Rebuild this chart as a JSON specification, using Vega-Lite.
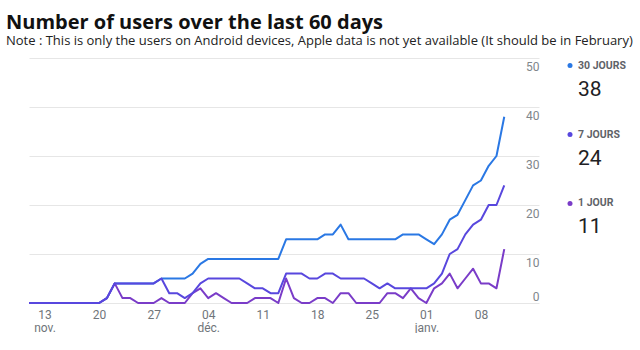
{
  "$schema": "https://vega.github.io/schema/vega-lite/v6.json",
  "padding": {"left": 6, "top": 13, "right": 0, "bottom": 0},
  "background": "white",
  "title": {
    "text": "Number of users over the last 60 days",
    "subtitle": "Note : This is only the users on Android devices, Apple data is not yet available (It should be in February)",
    "anchor": "start",
    "dx": -22,
    "font": "Open Sans",
    "fontSize": 20,
    "fontWeight": "bold",
    "color": "#111111",
    "subtitleFont": "Open Sans",
    "subtitleFontSize": 13,
    "subtitleColor": "#222222",
    "subtitlePadding": 2,
    "offset": 10
  },
  "config": {"view": {"stroke": null}, "concat": {"spacing": 28}},
  "datasets": {
    "users": [
      {"date": "2022-11-11", "30 JOURS": 0, "7 JOURS": 0, "1 JOUR": 0},
      {"date": "2022-11-12", "30 JOURS": 0, "7 JOURS": 0, "1 JOUR": 0},
      {"date": "2022-11-13", "30 JOURS": 0, "7 JOURS": 0, "1 JOUR": 0},
      {"date": "2022-11-14", "30 JOURS": 0, "7 JOURS": 0, "1 JOUR": 0},
      {"date": "2022-11-15", "30 JOURS": 0, "7 JOURS": 0, "1 JOUR": 0},
      {"date": "2022-11-16", "30 JOURS": 0, "7 JOURS": 0, "1 JOUR": 0},
      {"date": "2022-11-17", "30 JOURS": 0, "7 JOURS": 0, "1 JOUR": 0},
      {"date": "2022-11-18", "30 JOURS": 0, "7 JOURS": 0, "1 JOUR": 0},
      {"date": "2022-11-19", "30 JOURS": 0, "7 JOURS": 0, "1 JOUR": 0},
      {"date": "2022-11-20", "30 JOURS": 0, "7 JOURS": 0, "1 JOUR": 0},
      {"date": "2022-11-21", "30 JOURS": 1, "7 JOURS": 1, "1 JOUR": 1},
      {"date": "2022-11-22", "30 JOURS": 4, "7 JOURS": 4, "1 JOUR": 4},
      {"date": "2022-11-23", "30 JOURS": 4, "7 JOURS": 4, "1 JOUR": 1},
      {"date": "2022-11-24", "30 JOURS": 4, "7 JOURS": 4, "1 JOUR": 1},
      {"date": "2022-11-25", "30 JOURS": 4, "7 JOURS": 4, "1 JOUR": 0},
      {"date": "2022-11-26", "30 JOURS": 4, "7 JOURS": 4, "1 JOUR": 0},
      {"date": "2022-11-27", "30 JOURS": 4, "7 JOURS": 4, "1 JOUR": 0},
      {"date": "2022-11-28", "30 JOURS": 5, "7 JOURS": 5, "1 JOUR": 1},
      {"date": "2022-11-29", "30 JOURS": 5, "7 JOURS": 2, "1 JOUR": 0},
      {"date": "2022-11-30", "30 JOURS": 5, "7 JOURS": 2, "1 JOUR": 0},
      {"date": "2022-12-01", "30 JOURS": 5, "7 JOURS": 1, "1 JOUR": 0},
      {"date": "2022-12-02", "30 JOURS": 6, "7 JOURS": 2, "1 JOUR": 2},
      {"date": "2022-12-03", "30 JOURS": 8, "7 JOURS": 4, "1 JOUR": 3},
      {"date": "2022-12-04", "30 JOURS": 9, "7 JOURS": 5, "1 JOUR": 1},
      {"date": "2022-12-05", "30 JOURS": 9, "7 JOURS": 5, "1 JOUR": 2},
      {"date": "2022-12-06", "30 JOURS": 9, "7 JOURS": 5, "1 JOUR": 1},
      {"date": "2022-12-07", "30 JOURS": 9, "7 JOURS": 5, "1 JOUR": 0},
      {"date": "2022-12-08", "30 JOURS": 9, "7 JOURS": 5, "1 JOUR": 0},
      {"date": "2022-12-09", "30 JOURS": 9, "7 JOURS": 4, "1 JOUR": 0},
      {"date": "2022-12-10", "30 JOURS": 9, "7 JOURS": 3, "1 JOUR": 1},
      {"date": "2022-12-11", "30 JOURS": 9, "7 JOURS": 3, "1 JOUR": 1},
      {"date": "2022-12-12", "30 JOURS": 9, "7 JOURS": 2, "1 JOUR": 1},
      {"date": "2022-12-13", "30 JOURS": 9, "7 JOURS": 2, "1 JOUR": 0},
      {"date": "2022-12-14", "30 JOURS": 13, "7 JOURS": 6, "1 JOUR": 5},
      {"date": "2022-12-15", "30 JOURS": 13, "7 JOURS": 6, "1 JOUR": 1},
      {"date": "2022-12-16", "30 JOURS": 13, "7 JOURS": 6, "1 JOUR": 0},
      {"date": "2022-12-17", "30 JOURS": 13, "7 JOURS": 5, "1 JOUR": 0},
      {"date": "2022-12-18", "30 JOURS": 13, "7 JOURS": 5, "1 JOUR": 1},
      {"date": "2022-12-19", "30 JOURS": 14, "7 JOURS": 6, "1 JOUR": 1},
      {"date": "2022-12-20", "30 JOURS": 14, "7 JOURS": 6, "1 JOUR": 0},
      {"date": "2022-12-21", "30 JOURS": 16, "7 JOURS": 5, "1 JOUR": 2},
      {"date": "2022-12-22", "30 JOURS": 13, "7 JOURS": 5, "1 JOUR": 2},
      {"date": "2022-12-23", "30 JOURS": 13, "7 JOURS": 5, "1 JOUR": 0},
      {"date": "2022-12-24", "30 JOURS": 13, "7 JOURS": 5, "1 JOUR": 0},
      {"date": "2022-12-25", "30 JOURS": 13, "7 JOURS": 4, "1 JOUR": 0},
      {"date": "2022-12-26", "30 JOURS": 13, "7 JOURS": 3, "1 JOUR": 0},
      {"date": "2022-12-27", "30 JOURS": 13, "7 JOURS": 4, "1 JOUR": 2},
      {"date": "2022-12-28", "30 JOURS": 13, "7 JOURS": 3, "1 JOUR": 2},
      {"date": "2022-12-29", "30 JOURS": 14, "7 JOURS": 3, "1 JOUR": 1},
      {"date": "2022-12-30", "30 JOURS": 14, "7 JOURS": 3, "1 JOUR": 3},
      {"date": "2022-12-31", "30 JOURS": 14, "7 JOURS": 3, "1 JOUR": 1},
      {"date": "2023-01-01", "30 JOURS": 13, "7 JOURS": 3, "1 JOUR": 0},
      {"date": "2023-01-02", "30 JOURS": 12, "7 JOURS": 4, "1 JOUR": 3},
      {"date": "2023-01-03", "30 JOURS": 14, "7 JOURS": 6, "1 JOUR": 4},
      {"date": "2023-01-04", "30 JOURS": 17, "7 JOURS": 10, "1 JOUR": 6},
      {"date": "2023-01-05", "30 JOURS": 18, "7 JOURS": 11, "1 JOUR": 3},
      {"date": "2023-01-06", "30 JOURS": 21, "7 JOURS": 14, "1 JOUR": 5},
      {"date": "2023-01-07", "30 JOURS": 24, "7 JOURS": 16, "1 JOUR": 7},
      {"date": "2023-01-08", "30 JOURS": 25, "7 JOURS": 17, "1 JOUR": 4},
      {"date": "2023-01-09", "30 JOURS": 28, "7 JOURS": 20, "1 JOUR": 4},
      {"date": "2023-01-10", "30 JOURS": 30, "7 JOURS": 20, "1 JOUR": 3},
      {"date": "2023-01-11", "30 JOURS": 38, "7 JOURS": 24, "1 JOUR": 11}
    ]
  },
  "hconcat": [
    {
      "width": 510,
      "height": 245,
      "data": {"name": "users"},
      "transform": [{"fold": ["30 JOURS", "1 JOUR", "7 JOURS"], "as": ["series", "users"]}],
      "mark": {"type": "line", "strokeWidth": 2, "interpolate": "linear", "strokeJoin": "round"},
      "encoding": {
        "x": {
          "field": "date",
          "type": "temporal",
          "scale": {
            "type": "utc",
            "domain": [
              {"year": 2022, "month": 11, "date": 11, "utc": true},
              {"year": 2023, "month": 1, "date": 15, "hours": 11, "utc": true}
            ]
          },
          "axis": {
            "values": [
              {"year": 2022, "month": 11, "date": 13, "utc": true},
              {"year": 2022, "month": 11, "date": 20, "utc": true},
              {"year": 2022, "month": 11, "date": 27, "utc": true},
              {"year": 2022, "month": 12, "date": 4, "utc": true},
              {"year": 2022, "month": 12, "date": 11, "utc": true},
              {"year": 2022, "month": 12, "date": 18, "utc": true},
              {"year": 2022, "month": 12, "date": 25, "utc": true},
              {"year": 2023, "month": 1, "date": 1, "utc": true},
              {"year": 2023, "month": 1, "date": 8, "utc": true}
            ],
            "labelExpr": "[utcFormat(datum.value, '%d'), (datum.index == 0 || utcdate(datum.value) <= 7) ? ['janv.','févr.','mars','avr.','mai','juin','juil.','août','sept.','oct.','nov.','déc.'][utcmonth(datum.value)] : '']",
            "grid": false,
            "domain": false,
            "ticks": false,
            "title": null,
            "labelFont": "Roboto",
            "labelFontSize": 12,
            "labelColor": "#70757a",
            "labelPadding": 6,
            "labelLineHeight": 13,
            "labelFlush": false,
            "labelOverlap": false
          }
        },
        "y": {
          "field": "users",
          "type": "quantitative",
          "scale": {"domain": [0, 50], "nice": false},
          "axis": {
            "orient": "right",
            "values": [0, 10, 20, 30, 40, 50],
            "grid": true,
            "gridColor": "#e6e6e6",
            "gridWidth": 1,
            "domain": false,
            "ticks": false,
            "title": null,
            "labelAlign": "right",
            "labelBaseline": "middle",
            "labelPadding": 0,
            "labelOffset": {"condition": {"test": "datum.value == 0", "value": -7}, "value": 8},
            "labelFont": "Roboto",
            "labelFontSize": 12,
            "labelColor": "#80868b",
            "labelFlush": false
          }
        },
        "color": {
          "field": "series",
          "type": "nominal",
          "scale": {"domain": ["30 JOURS", "7 JOURS", "1 JOUR"], "range": ["#2a78e4", "#5847de", "#7a3cc8"]},
          "legend": null
        }
      }
    },
    {
      "width": 64,
      "height": 153,
      "data": {"name": "users"},
      "transform": [
        {"filter": "utcyear(datum.date) == 2023 && utcmonth(datum.date) == 0 && utcdate(datum.date) == 11"},
        {"fold": ["30 JOURS", "7 JOURS", "1 JOUR"], "as": ["series", "users"]}
      ],
      "encoding": {
        "y": {
          "field": "series",
          "type": "nominal",
          "scale": {"type": "point", "domain": ["30 JOURS", "7 JOURS", "1 JOUR"], "padding": 0.109},
          "axis": null
        }
      },
      "layer": [
        {
          "mark": {"type": "point", "filled": true, "size": 25, "opacity": 1},
          "encoding": {
            "x": {"datum": 0, "type": "quantitative", "scale": {"domain": [0, 8], "nice": false, "zero": true}, "axis": null},
            "color": {"field": "series", "type": "nominal", "legend": null}
          }
        },
        {
          "mark": {"type": "text", "align": "left", "baseline": "middle", "font": "Roboto", "fontSize": 10.5, "fontWeight": "bold", "color": "#5f6368"},
          "encoding": {
            "x": {"datum": 1, "type": "quantitative"},
            "text": {"field": "series", "type": "nominal"}
          }
        },
        {
          "mark": {"type": "text", "align": "left", "baseline": "alphabetic", "dy": 30, "font": "Roboto", "fontSize": 21, "color": "#202124"},
          "encoding": {
            "x": {"datum": 1, "type": "quantitative"},
            "text": {"field": "users", "type": "quantitative"}
          }
        }
      ]
    }
  ]
}
